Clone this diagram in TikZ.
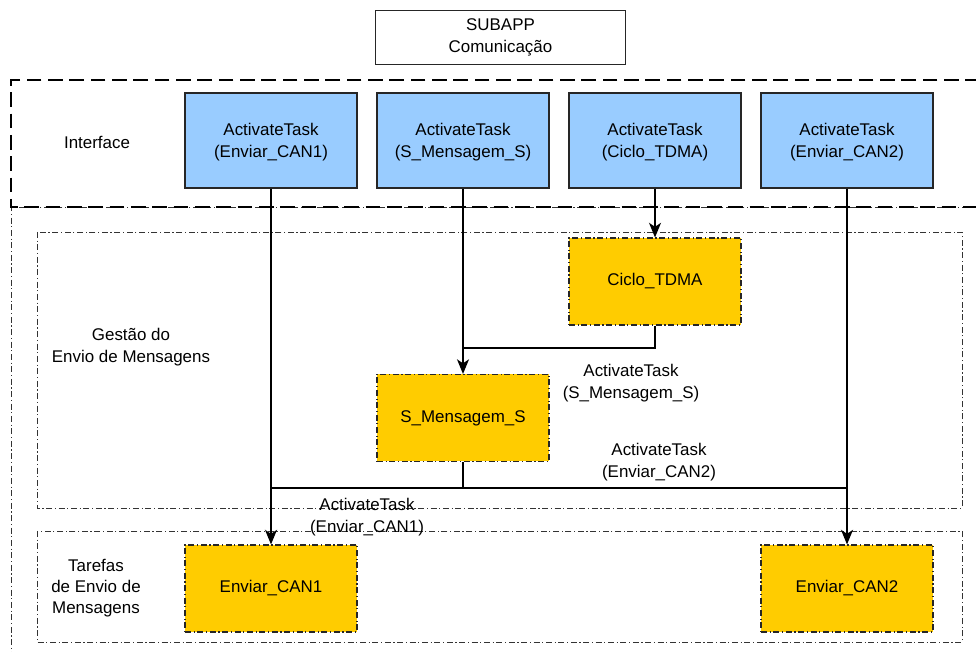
\documentclass[tikz,border=0pt]{standalone}
\usepackage{fontspec}
\setmainfont{Liberation Sans}
\usetikzlibrary{positioning, arrows.meta}
\definecolor{taskblue}{HTML}{99CCFF}
\definecolor{fbyellow}{HTML}{FFCC00}
\tikzset{
    every node/.append style={font=\fontsize{12.7}{16}\selectfont, align=center},
    iface/.style={draw=black!85, fill=taskblue, line width=0.8pt,
        minimum width=129pt, minimum height=71.25pt, inner sep=0pt,
        text depth=-1.5pt},
    fblock/.style={draw=black!85, fill=fbyellow, line width=0.8pt,
        dash pattern=on 4.5pt off 2pt on 0.8pt off 2pt,
        minimum width=129pt, minimum height=65.25pt, inner sep=0pt},
    region/.style={draw=black!80, line width=0.7pt,
        dash pattern=on 4.5pt off 2pt on 0.8pt off 2pt},
    ifregion/.style={draw=black, line width=2pt, dash pattern=on 11pt off 5pt},
    link/.style={line width=1pt},
    arrowlink/.style={link, -{Stealth[length=11pt, width=9pt, inset=3pt]}},
}

\begin{document}
\begin{tikzpicture}[x=0.75pt, y=-0.75pt]
    \useasboundingbox (0,0) rectangle (976,652);

    % regions
    \draw[region] (980,207) -- (11,207) -- (11,660);
    \draw[ifregion] (980,80) -- (11,80) -- (11,207) -- (980,207);
    \draw[region] (37,232) rectangle (962,508);
    \draw[region] (37,531) rectangle (962,642);

    \node[draw=black!85, line width=0.8pt, minimum width=188pt, minimum height=41pt,
        inner sep=0pt] (subapp) at (500.5,37.5) {SUBAPP\\Comunica\c{c}\~ao};

    \node (lif) at (97,142) {Interface};
    \node (lgest) at (131,347) {Gest\~ao do\\Envio de Mensagens};
    \node (ltar) at (96,588) {Tarefas\\de Envio de\\Mensagens};

    % interface events
    \node[iface] (a1) at (271,140.5) {ActivateTask\\(Enviar\_CAN1)};
    \node[iface] (a2) at (463,140.5) {ActivateTask\\(S\_Mensagem\_S)};
    \node[iface] (a3) at (655,140.5) {ActivateTask\\(Ciclo\_TDMA)};
    \node[iface] (a4) at (847,140.5) {ActivateTask\\(Enviar\_CAN2)};

    % blocks
    \node[fblock] (ciclo) at (655,281.5) {Ciclo\_TDMA};
    \node[fblock] (smens) at (463,418) {S\_Mensagem\_S};
    \node[fblock] (can1) at (271,588.5) {Enviar\_CAN1};
    \node[fblock] (can2) at (847,588.5) {Enviar\_CAN2};

    \coordinate (j2) at (463,348);
    \coordinate (j1) at (271,488);
    \coordinate (j4) at (847,488);

    \draw[arrowlink] (a1) -- (can1);
    \draw[arrowlink] (a2) -- (smens);
    \draw[arrowlink] (a3) -- (ciclo);
    \draw[arrowlink] (a4) -- (can2);
    \draw[link] (ciclo.south) |- (j2);
    \draw[link] (smens.south) |- (j1);
    \draw[link] (smens.south) |- (j4);

    \node (lsm) at (631,383) {ActivateTask\\(S\_Mensagem\_S)};
    \node (lcan2) at (659,462) {ActivateTask\\(Enviar\_CAN2)};
    \node (lcan1) at (367,517) {ActivateTask\\(Enviar\_CAN1)};
\end{tikzpicture}
\end{document}
